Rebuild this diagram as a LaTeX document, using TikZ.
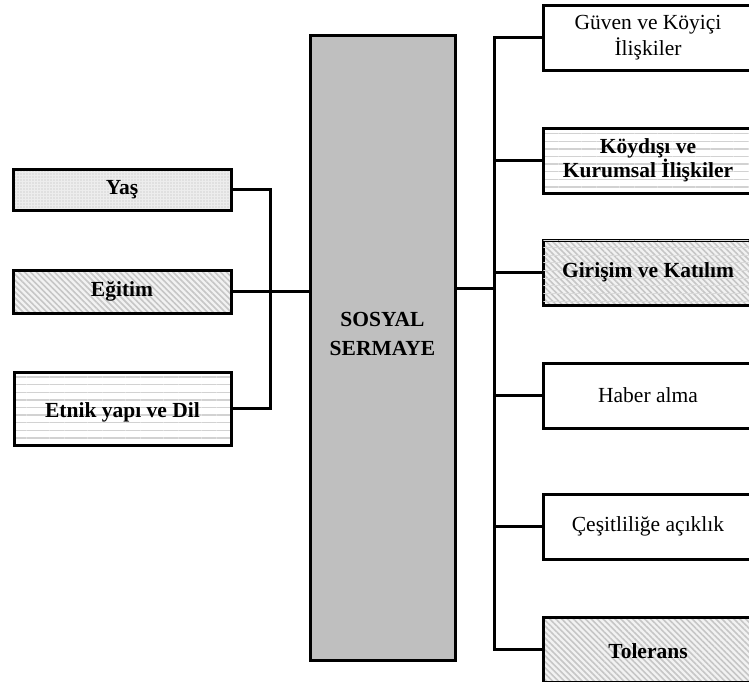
\documentclass[tikz,border=0pt]{standalone}
\usepackage{fontspec}
\setmainfont{Liberation Serif}
\usetikzlibrary{patterns.meta}
\tikzset{
  box/.style={draw, line width=3pt, rectangle, inner sep=0pt, align=center,
    font=\fontsize{21.5}{26}\selectfont},
  boldbox/.style={box, font=\fontsize{21.5}{24}\selectfont\bfseries},
  dotbox/.style={boldbox, preaction={fill=gray!14},
    pattern={Dots[radius=0.55pt,distance=3pt]}, pattern color=gray!55},
  hlinebox/.style={boldbox, preaction={fill=white},
    pattern={Lines[angle=0,distance=7.6pt,line width=1.4pt]}, pattern color=gray!35},
  diagbox/.style={boldbox, preaction={fill=gray!10},
    pattern={Lines[angle=-45,distance=4.2pt,line width=1.6pt]}, pattern color=gray!45},
  diaghbox/.style={diagbox,
    postaction={pattern={Lines[angle=0,distance=7.6pt,line width=1pt]}, pattern color=gray!30}},
  centerbox/.style={draw, line width=3pt, fill=gray!50, inner sep=0pt},
  conn/.style={line width=3pt},
}
\begin{document}
\begin{tikzpicture}[x=1pt,y=-1pt]
\useasboundingbox (0,0) rectangle (749,681);
\clip (0,0) rectangle (749,681);
% left boxes
\node[dotbox, minimum width=218pt, minimum height=41pt] (yas) at (122,189.5) {Yaş};
\node[diagbox, minimum width=218pt, minimum height=43pt] (egitim) at (122,291.5) {Eğitim};
\node[hlinebox, minimum width=217pt, minimum height=73pt, text height=22pt, text depth=5pt] (etnik) at (122.5,408.5) {Etnik yapı ve Dil};
% central box
\node[centerbox, minimum width=145pt, minimum height=625pt] (ss) at (382.5,347.5) {};
\node[align=center, font=\fontsize{21.5}{29}\selectfont\bfseries] (sstext) at ([yshift=14pt]ss.center) {SOSYAL\\SERMAYE};
% right boxes
\node[box, minimum width=210pt, minimum height=65pt] (guven) at (648,37.5) {Güven ve Köyiçi\\İlişkiler};
\node[hlinebox, minimum width=210pt, minimum height=65pt] (koy) at (648,160.5) {Köydışı ve\\Kurumsal İlişkiler};
\node[diaghbox, minimum width=210pt, minimum height=65pt] (gir) at (648,272.5) {Girişim ve Katılım};
\node[box, minimum width=210pt, minimum height=65pt] (haber) at (648,395.5) {Haber alma};
\node[box, minimum width=210pt, minimum height=65pt] (cesit) at (648,526.5) {Çeşitliliğe açıklık};
\node[diagbox, minimum width=210pt, minimum height=65pt, text height=19pt, text depth=2pt] (tol) at (648,649.5) {Tolerans};
% left connectors
\coordinate (lb) at (270,291);
\draw[conn] (yas.east) -- (yas.east -| lb) -- (etnik.east -| lb) -- (etnik.east);
\draw[conn] (egitim.east) -- (ss.west |- egitim.east);
% right connectors
\coordinate (rb) at (494,288);
\draw[conn] (guven.west) -- (guven.west -| rb) -- (tol.west -| rb) -- (tol.west);
\draw[conn] (koy.west) -- (koy.west -| rb);
\draw[conn] (gir.west) -- (gir.west -| rb);
\draw[conn] (haber.west) -- (haber.west -| rb);
\draw[conn] (cesit.west) -- (cesit.west -| rb);
\draw[conn] (ss.east |- rb) -- (rb);
\end{tikzpicture}
\end{document}
